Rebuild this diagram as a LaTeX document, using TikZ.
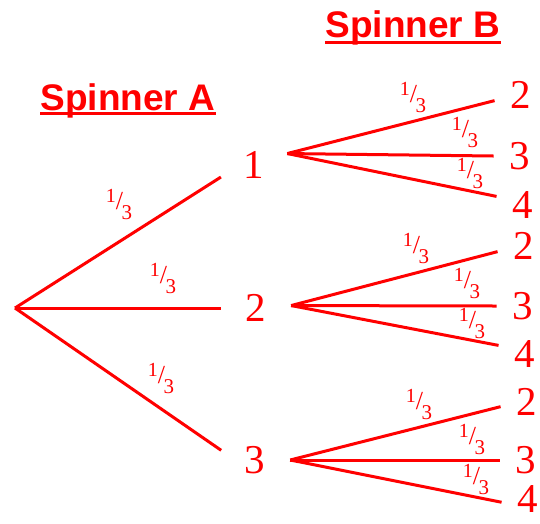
\documentclass[tikz,border=0pt]{standalone}
\usepackage{fontspec}
\usepackage{tikz}
\usetikzlibrary{positioning}
\newfontfamily\ttlfont{Liberation Sans}
\newfontfamily\numfont{Liberation Serif}
\definecolor{treered}{RGB}{255,0,0}
%% fraction label one third
\newcommand{\third}{\raisebox{7pt}{1}{\fontsize{26}{26}\selectfont/}\kern-1.5pt\raisebox{-10pt}{\fontsize{21}{21}\selectfont 3}}
\tikzset{
  %% spinner headings
  ttl/.style={font=\ttlfont\bfseries\fontsize{37}{37}\selectfont,
    text=treered,inner sep=0pt,anchor=base},
  %% underline of a heading
  uline/.style={draw=treered,line width=3pt},
  %% first spinner outcome
  num/.style={circle,minimum size=70pt,inner sep=0pt,
    font=\numfont\fontsize{41}{41}\selectfont,text=treered},
  %% second spinner outcome
  leaf/.style={rectangle,inner xsep=16pt,inner ysep=0pt,
    font=\numfont\fontsize{41}{41}\selectfont,text=treered},
  %% branches
  br/.style={draw=treered,line width=3pt},
  %% probability on a branch
  frac/.style={inner sep=0pt,font=\numfont\fontsize{20}{20}\selectfont,text=treered},
}
\begin{document}
\begin{tikzpicture}[x=1pt,y=-1pt]
  \useasboundingbox (0,0) rectangle (540,523);

  %% Headings
  \node[ttl] (ttlB) at (413,37)  {Spinner B};
  \node[ttl] (ttlA) at (128,110) {Spinner A};
  \draw[uline] ([yshift=-5pt]ttlB.base west)--([yshift=-5pt]ttlB.base east);
  \draw[uline] ([yshift=-3pt]ttlA.base west)--([yshift=-3pt]ttlA.base east);

  %% Spinner A
  \coordinate (root) at (15,308);
  \node[num] (a1) at (254,165) {1};
  \node[num] (a2) at (256,308) {2};
  \node[num] (a3) at (255,460) {3};

  %% Spinner B after 1
  \node[leaf] (b12) at (521,95)  {2};
  \node[leaf] (b13) at (520,156) {3};
  \node[leaf] (b14) at (523,205) {4};

  %% Spinner B after 2
  \node[leaf] (b22) at (524,246) {2};
  \node[leaf] (b23) at (523,306) {3};
  \node[leaf] (b24) at (525,354) {4};

  %% Spinner B after 3
  \node[leaf] (b32) at (527,402) {2};
  \node[leaf] (b33) at (526,460) {3};
  \node[leaf] (b34) at (528,499) {4};

  %% Branches of A
  \draw[br] (root)--(a1.200);
  \draw[br] (root)--(a2.west);
  \draw[br] (root)--(a3.164);
  \node[frac] (pa1) at (119,204) {\third};
  \node[frac] (pa2) at (163,278) {\third};
  \node[frac] (pa3) at (161,378) {\third};

  %% Branches of B after 1
  \draw[br] (a1.19)--(b12.192);
  \draw[br] (a1.19)--(b13.west);
  \draw[br] (a1.19)--(b14.162);
  \node[frac] (p12) at (413,97)  {\third};
  \node[frac] (p13) at (465,132) {\third};
  \node[frac] (p14) at (470,173) {\third};

  %% Branches of B after 2
  \draw[br] (a2.4)--(b22.192);
  \draw[br] (a2.4)--(b23.west);
  \draw[br] (a2.4)--(b24.162);
  \node[frac] (p22) at (416,248) {\third};
  \node[frac] (p23) at (467,283) {\third};
  \node[frac] (p24) at (472,323) {\third};

  %% Branches of B after 3
  \draw[br] (a3.east)--(b32.190);
  \draw[br] (a3.east)--(b33.west);
  \draw[br] (a3.east)--(b34.187);
  \node[frac] (p32) at (419,404) {\third};
  \node[frac] (p33) at (472,439) {\third};
  \node[frac] (p34) at (476,479) {\third};

\end{tikzpicture}
\end{document}
